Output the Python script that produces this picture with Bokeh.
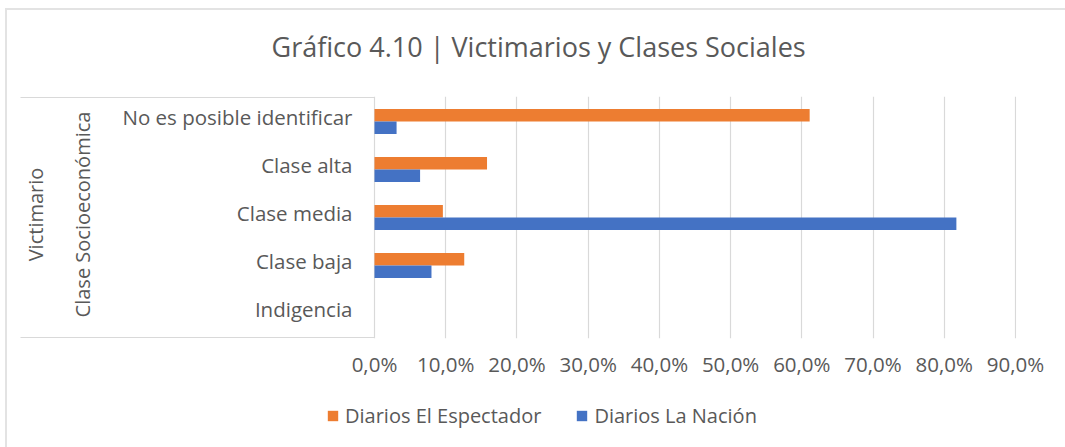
from bokeh.plotting import figure
from bokeh.layouts import column
from bokeh.models import (ColumnDataSource, Range1d, FixedTicker, Label,
                          Legend, LegendItem)
from bokeh.embed import file_html
from bokeh.resources import INLINE

# ---------------- data ----------------
title_text = "Gráfico 4.10 | Victimarios y Clases Sociales"
group_label = "Victimario"
subgroup_label = "Clase Socioeconómica"
categories = ["No es posible identificar", "Clase alta", "Clase media", "Clase baja", "Indigencia"]
series_names = ["Diarios El Espectador", "Diarios La Nación"]
espectador = [0.611, 0.158, 0.096, 0.126, 0.0]
nacion = [0.031, 0.064, 0.817, 0.080, 0.0]
x_ticks = [0.0, 0.1, 0.2, 0.3, 0.4, 0.5, 0.6, 0.7, 0.8, 0.9]
x_tick_labels = ["0,0%", "10,0%", "20,0%", "30,0%", "40,0%", "50,0%", "60,0%", "70,0%", "80,0%", "90,0%"]

# ---------------- styles / layout (page pixels) ----------------
FONT = "Open Sans"
TXT = "#595959"
GRID = "#d9d9d9"
ORANGE = "#ED7D31"
BLUE = "#4472C4"

OX, OY = 7, 10                  # content origin on the page (inside the chart border)
W = 1065 - OX
RB = 1065 - 1016                # right border (frames end at page x 1016)
TOP_H = 96 - OY                 # title strip height
CAT_TOP, CAT_BOT = 97, 337      # page y of the category block
MAIN_H = 380 - 96               # main plot height (frame + x axis)
LEG_H = 447 - 380               # legend strip height
X0P, X9P = 374, 1015            # page x of 0 % and 90 %
XMAX = 0.9
NCAT = len(categories)
XPX = (X9P - X0P) / XMAX
YPX = (CAT_BOT - CAT_TOP) / NCAT
FRAME_H = CAT_BOT - CAT_TOP + 2
LABEL_LIFT = 5 / YPX            # optical centring of the category labels


def cx(page_x):
    return (page_x - X0P) / XPX


def cy(page_y):
    return (CAT_BOT - page_y) / YPX


def strip(height):
    f = figure(width=W, height=height, x_range=Range1d(0, W - RB), y_range=Range1d(0, height),
               x_axis_location=None, y_axis_location=None,
               output_backend="svg", toolbar_location=None,
               min_border_left=0, min_border_right=RB, min_border_top=0, min_border_bottom=0)
    f.outline_line_color = None
    f.grid.visible = False
    f.background_fill_color = "white"
    f.border_fill_color = "white"
    return f


# ---------------- title strip ----------------
pt = strip(TOP_H)
pt.add_layout(Label(x=271 - OX, y=TOP_H - (46 - OY), text=title_text,
                    text_align="left", text_baseline="middle",
                    text_font=FONT, text_font_size="27px", text_color=TXT))

# ---------------- main plot ----------------
cat_pos = [NCAT - 0.5 - i for i in range(NCAT)]     # first category at the top
source = ColumnDataSource(dict(
    cat=categories,
    y_esp=[c + 0.13 for c in cat_pos],
    y_nac=[c - 0.13 for c in cat_pos],
    esp=espectador, nac=nacion))

p = figure(width=W, height=MAIN_H,
           x_range=Range1d(cx(OX), XMAX + 1 / XPX),
           y_range=Range1d(-1 / YPX, NCAT + 1 / YPX),
           output_backend="svg", toolbar_location=None,
           min_border_left=0, min_border_right=RB,
           min_border_top=0, min_border_bottom=MAIN_H - FRAME_H)
p.outline_line_color = None
p.background_fill_color = "white"
p.border_fill_color = "white"

p.hbar(y="y_esp", right="esp", left=0, height=0.26,
       source=source, fill_color=ORANGE, line_color=None)
p.hbar(y="y_nac", right="nac", left=0, height=0.26,
       source=source, fill_color=BLUE, line_color=None)

# x axis
p.xaxis.ticker = FixedTicker(ticks=x_ticks)
p.xaxis.major_label_overrides = {t: l for t, l in zip(x_ticks, x_tick_labels)}
p.xaxis.axis_line_color = None
p.xaxis.major_tick_line_color = None
p.xaxis.minor_tick_line_color = None
p.xaxis.major_tick_out = 0
p.xaxis.major_label_standoff = 11
p.xaxis.major_label_text_font = FONT
p.xaxis.major_label_text_font_size = "20.5px"
p.xaxis.major_label_text_color = TXT

p.xgrid.ticker = FixedTicker(ticks=x_ticks)
p.xgrid.grid_line_color = GRID
p.xgrid.grid_line_width = 1.2
p.ygrid.grid_line_color = None

# y axis: labels pulled right so they end just left of the value 0
label_pos = [c + LABEL_LIFT for c in cat_pos]
p.yaxis.ticker = FixedTicker(ticks=label_pos)
p.yaxis.major_label_overrides = {c: n for c, n in zip(label_pos, categories)}
p.yaxis.axis_line_color = None
p.yaxis.major_tick_line_color = None
p.yaxis.minor_tick_line_color = None
p.yaxis.major_tick_out = 0
p.yaxis.major_tick_in = 0
p.yaxis.major_label_standoff = -(352 - OX)
p.yaxis.major_label_text_font = FONT
p.yaxis.major_label_text_font_size = "20.5px"
p.yaxis.major_label_text_color = TXT

# category box: top and bottom edges of the category block
p.segment(x0=[cx(20), cx(20)], y0=[0, NCAT], x1=[0, 0], y1=[0, NCAT],
          line_color=GRID, line_width=1.2)

# multi-level category labels
for txt, px in [(group_label, 35), (subgroup_label, 82)]:
    p.add_layout(Label(x=cx(px), y=cy(214), text=txt, angle=1.5708,
                       text_align="center", text_baseline="middle",
                       text_font=FONT, text_font_size="20px", text_color=TXT))

# ---------------- legend strip ----------------
pl = strip(LEG_H)
l1 = pl.hbar(y=[-5], right=[1], height=1, fill_color=ORANGE, line_color=None)
l2 = pl.hbar(y=[-5], right=[1], height=1, fill_color=BLUE, line_color=None)
legend = Legend(items=[LegendItem(label=series_names[0], renderers=[l1]),
                       LegendItem(label=series_names[1], renderers=[l2])],
                location=(326 - OX, 18), orientation="horizontal",
                padding=0, margin=0, spacing=34, glyph_width=13, glyph_height=13,
                label_standoff=6, border_line_color=None, background_fill_alpha=0,
                label_text_font=FONT, label_text_font_size="20px", label_text_color=TXT)
pl.add_layout(legend)

layout = column(pt, p, pl, spacing=0)
layout.styles = {"margin-left": "5px", "margin-top": "8px",
                 "border-left": "2px solid #e3e3e3", "border-top": "2px solid #e3e3e3"}

open("out.html", "w").write(file_html(layout, INLINE))
